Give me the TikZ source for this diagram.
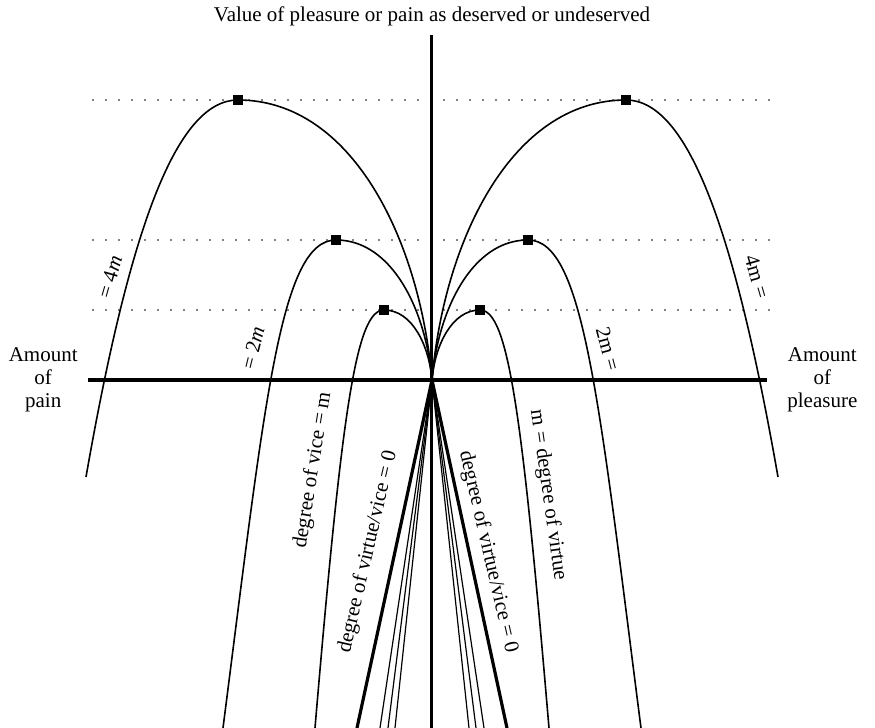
\documentclass[tikz,border=0pt]{standalone}
\usepackage{fontspec}
\setmainfont{Liberation Serif}
\usetikzlibrary{positioning}

\begin{document}
\begin{tikzpicture}[
    x=0.5pt, y=0.5pt,
    font=\fontsize{10.5}{11.5}\selectfont,
    haxis/.style={line width=2pt},
    vaxis/.style={line width=1.5pt},
    curve/.style={line width=0.8pt},
    ray/.style={line width=0.6pt},
    zero/.style={line width=1.6pt},
    level/.style={line width=0.8pt, line cap=round, dash pattern=on 0pt off 6.5pt},
    peak/.style={rectangle, fill=black, inner sep=0pt, minimum size=5pt},
    tag/.style={inner sep=1pt},
    side/.style={align=center, inner sep=2pt}
]
\useasboundingbox (-432,-348) rectangle (443,380);

% Axes
\coordinate (O) at (0,0);
\coordinate (hl) at (-344,0);
\coordinate (hr) at (335,0);
\coordinate (vt) at (0,345);
\coordinate (vb) at (0,-348);

% Dotted levels of the maxima
\foreach \h in {70,140,280} {
    \draw[level] (-339,\h) -- (-12,\h);
    \draw[level] (12,\h) -- (339,\h);
}

% Curves for m, 2m and 4m on both sides
\foreach \s/\side in {1/L,-1/R} {
    \coordinate (t1\side) at ({-48*\s},70);
    \coordinate (t2\side) at ({-96*\s},140);
    \coordinate (t4\side) at ({-194*\s},280);
    \draw[curve] ({-117*\s},-348) .. controls ({-90*\s},-30) and ({-76*\s},70) .. (t1\side)
        .. controls ({-20*\s},70) and ({-3*\s},35) .. (O);
    \draw[curve] ({-209*\s},-348) .. controls ({-167*\s},-21) and ({-152*\s},140) .. (t2\side)
        .. controls ({-40*\s},140) and ({-6*\s},70) .. (O);
    \draw[curve] ({-346*\s},-97) .. controls ({-303.5*\s},145.5) and ({-257*\s},280) .. (t4\side)
        .. controls ({-80*\s},280) and ({-12*\s},140) .. (O);
    % rays below the origin
    \foreach \d in {37,44,52} {
        \coordinate (e\d\side) at ({-\d*\s},-348);
        \draw[ray] (O) -- (e\d\side);
    }
    \coordinate (z\side) at ({-75*\s},-348);
    \draw[zero] (O) -- (z\side);
    \node[peak] (m1\side) at (t1\side) {};
    \node[peak] (m2\side) at (t2\side) {};
    \node[peak] (m4\side) at (t4\side) {};
}

\draw[haxis] (hl) -- (hr);
\draw[vaxis] (vb) -- (vt);

% Axis labels
\node[above=1pt of vt] (title) {Value of pleasure or pain as deserved or undeserved};
\node[side, left=3pt of hl] (pain) {Amount\\of\\pain};
\node[side, right=8pt of hr] (pleasure) {Amount\\of\\pleasure};

% Curve labels
\node[tag, rotate=74] (l4) at (-322,103) {= 4\textit{m}};
\node[tag, rotate=-74] (r4) at (325,103) {4m =};
\node[tag, rotate=76] (l2) at (-179,32) {= 2\textit{m}};
\node[tag, rotate=-75] (r2) at (176,31) {2m =};
\node[tag, rotate=81] (l1) at (-119,-90) {degree of vice = m};
\node[tag, rotate=-82] (r1) at (116,-115) {m = degree of virtue};
\node[tag, rotate=77] (l0) at (-64,-172) {degree of virtue/vice = 0};
\node[tag, rotate=-77] (r0) at (56,-172) {degree of virtue/vice = 0};

\end{tikzpicture}
\end{document}
